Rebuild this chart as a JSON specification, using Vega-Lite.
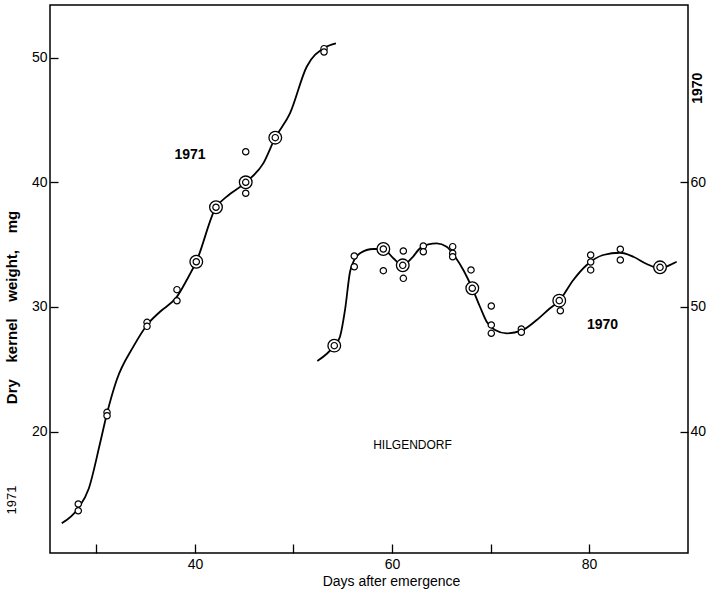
{
  "$schema": "https://vega.github.io/schema/vega-lite/v6.json",
  "width": 638,
  "height": 548,
  "autosize": "none",
  "padding": {"left": 50, "top": 5, "right": 21, "bottom": 42},
  "background": "white",
  "config": {
    "view": {"stroke": "black", "strokeWidth": 1.5},
    "font": "Liberation Sans",
    "axis": {"grid": false, "domain": false, "tickColor": "black", "labelColor": "black", "titleColor": "black", "labelFont": "Liberation Sans", "titleFont": "Liberation Sans", "tickWidth": 1.3}
  },
  "datasets": {
    "pts1971": [
      {"day": 28.15, "weight": 14.2, "kind": "obs"},
      {"day": 28.15, "weight": 13.66, "kind": "obs"},
      {"day": 31.07, "weight": 21.55, "kind": "obs"},
      {"day": 31.07, "weight": 21.28, "kind": "obs"},
      {"day": 35.13, "weight": 28.77, "kind": "obs"},
      {"day": 35.13, "weight": 28.45, "kind": "obs"},
      {"day": 38.17, "weight": 31.39, "kind": "obs"},
      {"day": 38.17, "weight": 30.5, "kind": "obs"},
      {"day": 45.15, "weight": 42.45, "kind": "obs"},
      {"day": 45.15, "weight": 39.12, "kind": "obs"},
      {"day": 53.1, "weight": 50.72, "kind": "obs"},
      {"day": 53.1, "weight": 50.45, "kind": "obs"},
      {"day": 40.13, "weight": 33.63, "kind": "mean"},
      {"day": 42.13, "weight": 38.0, "kind": "mean"},
      {"day": 45.15, "weight": 40.0, "kind": "mean"},
      {"day": 48.15, "weight": 43.58, "kind": "mean"}
    ],
    "curve1971": [
      {"day": 26.47, "weight": 12.65},
      {"day": 28.15, "weight": 13.86},
      {"day": 29.2, "weight": 15.4},
      {"day": 30.36, "weight": 19.07},
      {"day": 31.07, "weight": 21.48},
      {"day": 32.05, "weight": 24.15},
      {"day": 33.74, "weight": 26.82},
      {"day": 35.13, "weight": 28.56},
      {"day": 36.45, "weight": 29.62},
      {"day": 38.17, "weight": 30.83},
      {"day": 39.16, "weight": 32.16},
      {"day": 40.13, "weight": 33.63},
      {"day": 42.13, "weight": 38.0},
      {"day": 43.22, "weight": 38.85},
      {"day": 45.15, "weight": 40.0},
      {"day": 46.93, "weight": 41.52},
      {"day": 48.15, "weight": 43.58},
      {"day": 49.64, "weight": 45.53},
      {"day": 51.34, "weight": 49.27},
      {"day": 53.13, "weight": 50.79},
      {"day": 54.31, "weight": 51.15}
    ],
    "pts1970": [
      {"day": 54.14, "weight": 46.9, "kind": "mean"},
      {"day": 59.12, "weight": 54.65, "kind": "mean"},
      {"day": 61.09, "weight": 53.34, "kind": "mean"},
      {"day": 68.15, "weight": 51.5, "kind": "mean"},
      {"day": 76.98, "weight": 50.51, "kind": "mean"},
      {"day": 87.21, "weight": 53.18, "kind": "mean"},
      {"day": 56.17, "weight": 54.09, "kind": "obs"},
      {"day": 56.17, "weight": 53.23, "kind": "obs"},
      {"day": 59.12, "weight": 52.91, "kind": "obs"},
      {"day": 61.15, "weight": 54.49, "kind": "obs"},
      {"day": 61.15, "weight": 52.3, "kind": "obs"},
      {"day": 63.18, "weight": 54.89, "kind": "obs"},
      {"day": 63.18, "weight": 54.43, "kind": "obs"},
      {"day": 66.16, "weight": 54.84, "kind": "obs"},
      {"day": 66.16, "weight": 54.31, "kind": "obs"},
      {"day": 66.16, "weight": 54.03, "kind": "obs"},
      {"day": 68.02, "weight": 52.97, "kind": "obs"},
      {"day": 70.08, "weight": 50.08, "kind": "obs"},
      {"day": 70.08, "weight": 48.56, "kind": "obs"},
      {"day": 70.08, "weight": 47.89, "kind": "obs"},
      {"day": 73.13, "weight": 48.24, "kind": "obs"},
      {"day": 73.13, "weight": 47.97, "kind": "obs"},
      {"day": 77.09, "weight": 49.7, "kind": "obs"},
      {"day": 80.17, "weight": 54.17, "kind": "obs"},
      {"day": 80.17, "weight": 53.61, "kind": "obs"},
      {"day": 80.17, "weight": 52.97, "kind": "obs"},
      {"day": 83.18, "weight": 54.63, "kind": "obs"},
      {"day": 83.18, "weight": 53.77, "kind": "obs"}
    ],
    "curve1970": [
      {"day": 52.42, "weight": 45.67},
      {"day": 54.14, "weight": 46.9},
      {"day": 54.72, "weight": 47.62},
      {"day": 55.23, "weight": 49.76},
      {"day": 55.74, "weight": 52.83},
      {"day": 56.17, "weight": 53.77},
      {"day": 56.75, "weight": 54.31},
      {"day": 58.1, "weight": 54.65},
      {"day": 59.12, "weight": 54.65},
      {"day": 60.13, "weight": 53.91},
      {"day": 61.09, "weight": 53.34},
      {"day": 62.0, "weight": 53.91},
      {"day": 62.84, "weight": 54.71},
      {"day": 63.69, "weight": 55.03},
      {"day": 64.54, "weight": 55.11},
      {"day": 65.55, "weight": 54.84},
      {"day": 66.4, "weight": 54.03},
      {"day": 67.24, "weight": 52.97},
      {"day": 68.15, "weight": 51.5},
      {"day": 68.93, "weight": 50.02},
      {"day": 69.61, "weight": 48.82},
      {"day": 70.46, "weight": 48.16},
      {"day": 71.64, "weight": 47.89},
      {"day": 73.13, "weight": 48.1},
      {"day": 74.69, "weight": 48.96},
      {"day": 76.04, "weight": 49.9},
      {"day": 76.98, "weight": 50.51},
      {"day": 78.41, "weight": 52.17},
      {"day": 79.77, "weight": 53.37},
      {"day": 81.45, "weight": 54.17},
      {"day": 83.15, "weight": 54.35},
      {"day": 84.5, "weight": 54.03},
      {"day": 85.86, "weight": 53.45},
      {"day": 87.21, "weight": 53.1},
      {"day": 88.56, "weight": 53.5},
      {"day": 88.9, "weight": 53.63}
    ]
  },
  "encoding": {
    "x": {
      "field": "day", "type": "quantitative",
      "scale": {"domain": [25.28, 90.05], "nice": false, "zero": false},
      "axis": {
        "orient": "bottom", "values": [30, 40, 50, 60, 70, 80],
        "labelExpr": "datum.value % 20 == 0 ? datum.label : ''",
        "tickSize": -9, "labelPadding": 13, "labelFontSize": 14,
        "title": "Days after emergence", "titleFontSize": 14, "titleFontWeight": "normal",
        "titleX": 341, "titleY": 28, "titleBaseline": "middle", "titleAlign": "center"
      }
    }
  },
  "layer": [
    {
      "encoding": {
        "y": {
          "field": "weight", "type": "quantitative",
          "scale": {"domain": [10.27, 54.22], "nice": false, "zero": false},
          "axis": {
            "orient": "left", "values": [20, 30, 40, 50],
            "tickSize": -8, "labelPadding": 11, "labelFontSize": 14,
            "title": "Dry\u00a0\u00a0\u00a0\u00a0kernel\u00a0\u00a0\u00a0\u00a0weight,\u00a0\u00a0\u00a0\u00a0mg",
            "titleFontSize": 15, "titleFontWeight": "bold",
            "titleX": -39, "titleY": 302, "titleBaseline": "middle", "titleAlign": "center", "titleAngle": -90
          }
        }
      },
      "layer": [
        {
          "data": {"name": "curve1971"},
          "mark": {"type": "line", "interpolate": "monotone", "color": "black", "strokeWidth": 1.8}
        },
        {
          "data": {"name": "pts1971"},
          "transform": [{"filter": "datum.kind == 'mean'"}],
          "mark": {"type": "point", "shape": "circle", "size": 160, "filled": false, "fill": "white", "fillOpacity": 1, "stroke": "black", "strokeWidth": 1.3, "opacity": 1}
        },
        {
          "data": {"name": "pts1971"},
          "mark": {"type": "point", "shape": "circle", "size": 40, "filled": false, "fill": "white", "fillOpacity": 1, "stroke": "black", "strokeWidth": 1.2, "opacity": 1}
        },
        {
          "data": {"values": [{"day": 39.49, "weight": 42.19, "label": "1971"}]},
          "mark": {"type": "text", "fontSize": 14, "fontWeight": "bold", "color": "black", "align": "center", "baseline": "middle"},
          "encoding": {"text": {"field": "label"}}
        },
        {
          "data": {"values": [{"day": 62.08, "weight": 18.93, "label": "HILGENDORF"}]},
          "mark": {"type": "text", "fontSize": 12, "color": "black", "align": "center", "baseline": "middle"},
          "encoding": {"text": {"field": "label"}}
        },
        {
          "data": {"values": [{"day": 21.39, "weight": 14.52, "label": "1971"}]},
          "mark": {"type": "text", "fontSize": 13, "color": "black", "align": "center", "baseline": "middle", "angle": 270},
          "encoding": {"text": {"field": "label"}}
        }
      ]
    },
    {
      "encoding": {
        "y": {
          "field": "weight", "type": "quantitative",
          "scale": {"domain": [30.27, 74.22], "nice": false, "zero": false},
          "axis": {
            "orient": "right", "values": [40, 50, 60],
            "tickSize": -8, "labelPadding": 10, "labelFontSize": 14, "title": null
          }
        }
      },
      "layer": [
        {
          "data": {"name": "curve1970"},
          "mark": {"type": "line", "interpolate": "monotone", "color": "black", "strokeWidth": 1.8}
        },
        {
          "data": {"name": "pts1970"},
          "transform": [{"filter": "datum.kind == 'mean'"}],
          "mark": {"type": "point", "shape": "circle", "size": 160, "filled": false, "fill": "white", "fillOpacity": 1, "stroke": "black", "strokeWidth": 1.3, "opacity": 1}
        },
        {
          "data": {"name": "pts1970"},
          "mark": {"type": "point", "shape": "circle", "size": 40, "filled": false, "fill": "white", "fillOpacity": 1, "stroke": "black", "strokeWidth": 1.2, "opacity": 1}
        },
        {
          "data": {"values": [{"day": 81.37, "weight": 48.53, "label": "1970"}]},
          "mark": {"type": "text", "fontSize": 14, "fontWeight": "bold", "color": "black", "align": "center", "baseline": "middle"},
          "encoding": {"text": {"field": "label"}}
        },
        {
          "data": {"values": [{"day": 91.07, "weight": 67.54, "label": "1970"}]},
          "mark": {"type": "text", "fontSize": 14, "fontWeight": "bold", "color": "black", "align": "center", "baseline": "middle", "angle": 270},
          "encoding": {"text": {"field": "label"}}
        }
      ]
    }
  ],
  "resolve": {"scale": {"y": "independent"}}
}
